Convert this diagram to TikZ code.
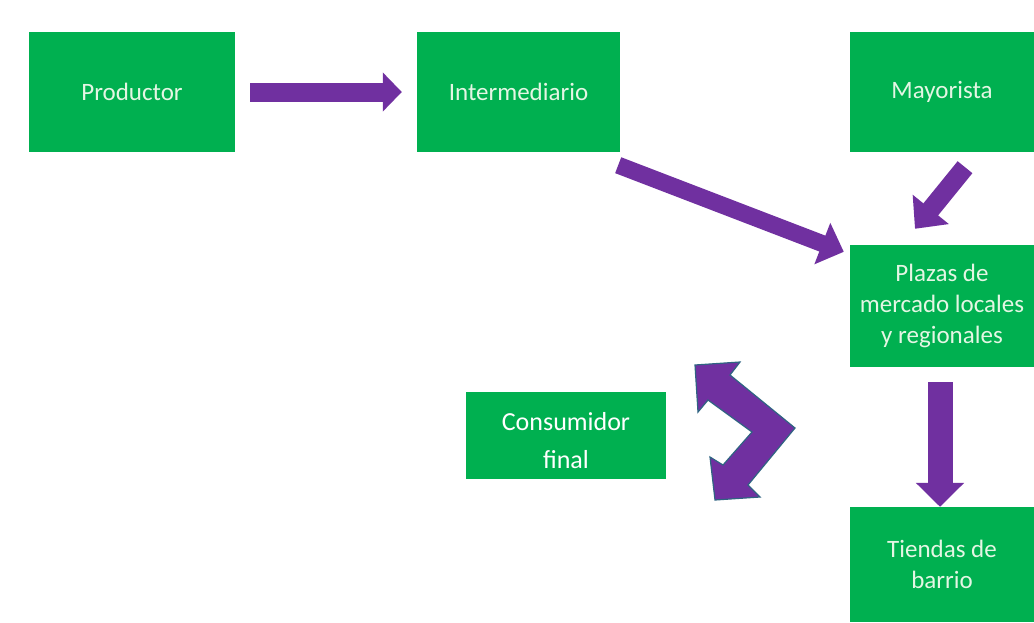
\documentclass[tikz,border=0pt]{standalone}
\usepackage{fontspec}
\setmainfont{Carlito}
\usetikzlibrary{arrows.meta}
\definecolor{boxgreen}{HTML}{00B050}
\definecolor{arrowpurple}{HTML}{7030A0}
\definecolor{chevedge}{HTML}{2F6482}
\definecolor{softwhite}{HTML}{E4F6E4}
\begin{document}
\begin{tikzpicture}[x=1pt,y=-1pt,
  box/.style={fill=boxgreen, draw=none, inner sep=0pt, text=softwhite,
    font=\fontsize{25}{31}\selectfont, align=center},
  blockarrow/.style={draw=arrowpurple, line cap=butt}]
\useasboundingbox[fill=white] (0,0) rectangle (1034,622);

% boxes
\node[box, minimum width=206pt, minimum height=120pt] (prod) at (132,92) {Productor};
\node[box, minimum width=203pt, minimum height=120pt] (inter) at (518.5,92) {Intermediario};
\node[box, minimum width=184pt, minimum height=120pt] (mayor) at (942,92) {Mayorista};
\node[box, minimum width=184pt, minimum height=122pt] (plazas) at (942,306) {Plazas de\\mercado locales\\y regionales};
\node[box, minimum width=184pt, minimum height=115pt] (tiendas) at (942,564.5) {Tiendas de\\barrio};
\node[box, text=white, font=\fontsize{26}{38}\selectfont, minimum width=200pt, minimum height=87pt] (cons) at (566,435) {\rule{0pt}{29pt}Consumidor\\final};

% block arrows
\draw[blockarrow, line width=19pt, -{Triangle[length=19pt,width=38pt]}]
  ([shift={(15,0)}]prod.east) -- ([shift={(-15,0)}]inter.west);
\draw[blockarrow, line width=17pt, -{Triangle[length=23pt,width=43pt]}]
  ([shift={(-2,13)}]inter.south east) -- ([shift={(-6,7)}]plazas.north west);
\draw[blockarrow, line width=19pt, -{Triangle[length=25pt,width=45pt]}]
  ([shift={(23,15)}]mayor.south) -- ([shift={(-27,-16)}]plazas.north);
\draw[blockarrow, line width=25pt, -{Triangle[length=24pt,width=47pt]}]
  ([shift={(-2,15)}]plazas.south) -- ([shift={(-2,0)}]tiendas.north);

% double chevron arrow
\draw[fill=arrowpurple, draw=chevedge, line width=1.2pt, line join=miter]
  (695,365) -- (740,362) -- (730,375) -- (795,428) -- (748,485) -- (760,497)
  -- (715,500) -- (710,457) -- (723,465) -- (752,432) -- (708,400) -- (698,412) -- cycle;
\end{tikzpicture}
\end{document}
